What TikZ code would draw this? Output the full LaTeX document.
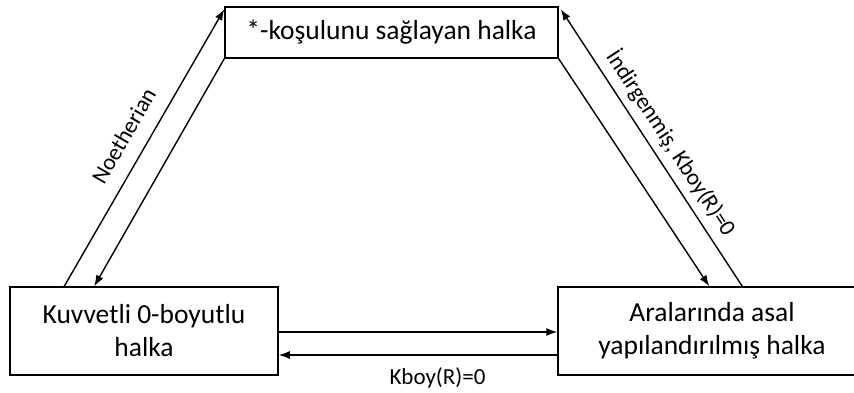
\documentclass[tikz,border=0pt]{standalone}
\usepackage{fontspec}
\setmainfont{Carlito}
\usetikzlibrary{arrows.meta}
\begin{document}
\begin{tikzpicture}[x=1pt,y=-1pt,
  box/.style={draw, line width=1.5pt, inner sep=0pt, align=center, font=\fontsize{27.5}{33}\selectfont},
  conn/.style={line width=1.4pt, -{Latex[length=11pt,width=8pt]}},
  lbl/.style={inner sep=0pt, font=\fontsize{23}{27}\selectfont}]
\useasboundingbox (0,0) rectangle (854,392);
\clip (0,0) rectangle (854,392);
\node[box, minimum width=333pt, minimum height=51pt] (T) at (391.5,32.5) {*-koşulunu sağlayan halka};
\node[box, minimum width=268pt, minimum height=88pt] (L) at (144,331) {Kuvvetli 0-boyutlu\\halka};
\node[box, minimum width=308pt, minimum height=88pt] (R) at (712,331) {Aralarında asal\\yapılandırılmış halka};
% left side
\draw[conn] ([xshift=55pt]L.north west) -- node[lbl, midway, sloped, above=15pt] {Noetherian} ([yshift=-3pt]T.north west);
\draw[conn] (T.south west) -- ([xshift=85pt]L.north west);
% right side
\draw[conn] (T.south east) -- ([xshift=152pt]R.north west);
\draw[conn] ([xshift=185pt]R.north west) -- node[lbl, pos=0.48, sloped, above=7pt] {İndirgenmiş, Kboy(R)=0} ([xshift=2pt,yshift=-3pt]T.north east);
% bottom
\draw[conn] ([yshift=-1pt]L.east) -- ([yshift=-1pt]R.west);
\draw[conn] ([yshift=-24pt]R.west) -- node[lbl, pos=0.43, below=12pt] {Kboy(R)=0} ([yshift=-24pt]L.east);
\end{tikzpicture}
\end{document}
